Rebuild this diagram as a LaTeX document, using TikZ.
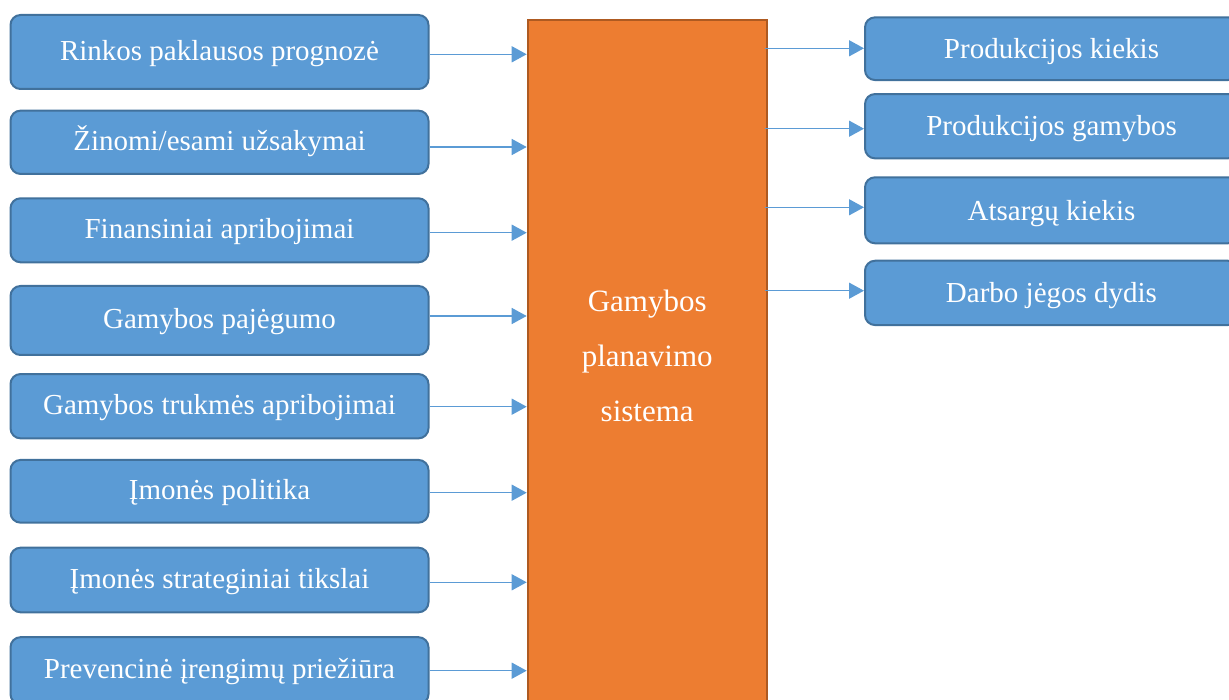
\documentclass[tikz,border=0pt]{standalone}
\usepackage{fontspec}
\setmainfont{Liberation Serif}
\usetikzlibrary{arrows.meta}
\definecolor{boxfill}{HTML}{5B9BD5}
\definecolor{boxline}{HTML}{41719C}
\definecolor{sysfill}{HTML}{ED7D31}
\definecolor{sysline}{HTML}{AE5A21}
\definecolor{arrowcol}{HTML}{5B9BD5}
\begin{document}
\begin{tikzpicture}[x=1pt,y=-1pt,
  factor/.style={draw=boxline, fill=boxfill, line width=2pt, rounded corners=10pt,
    text=white, font=\fontsize{29}{34}\selectfont, minimum width=418pt, inner sep=0pt,
    text height=20pt, text depth=3.5pt},
  result/.style={factor, minimum width=373pt, text depth=0.5pt},
  flow/.style={draw=arrowcol, line width=1.5pt, -{Triangle[length=15pt,width=16pt]}}
]
\useasboundingbox (0,0) rectangle (1229,700);
\clip (0,0) rectangle (1229,700);

% central system block (runs past the lower edge)
\node[draw=sysline, fill=sysfill, line width=2pt, minimum width=239pt,
      minimum height=720pt, anchor=north, inner sep=0pt] (sys) at (647.2,19.3) {};
\node[text=white, font=\fontsize{31}{55}\selectfont, align=center] (syslabel)
      at (647.2,356) {Gamybos\\planavimo\\sistema};

% inputs
\node[factor, minimum height=74pt]   (f1) at (219.5,52)    {Rinkos paklausos prognozė};
\node[factor, minimum height=63.3pt] (f2) at (219.5,142.3) {Žinomi/esami užsakymai};
\node[factor, minimum height=64pt]   (f3) at (219.5,230.3) {Finansiniai apribojimai};
\node[factor, minimum height=69pt]   (f4) at (219.5,320.5) {Gamybos pajėgumo};
\node[factor, minimum height=64.3pt] (f5) at (219.5,406.2) {Gamybos trukmės apribojimai};
\node[factor, minimum height=62.7pt] (f6) at (219.5,491.3) {Įmonės politika};
\node[factor, minimum height=64.6pt] (f7) at (219.5,580)   {Įmonės strateginiai tikslai};
\node[factor, minimum height=67pt]   (f8) at (219.5,670.7) {Prevencinė įrengimų priežiūra};

% outputs
\node[result, minimum height=62.7pt] (r1) at (1051.5,48.7)  {Produkcijos kiekis};
\node[result, minimum height=64.3pt] (r2) at (1051.5,126.2) {Produkcijos gamybos};
\node[result, minimum height=66pt]   (r3) at (1051.5,210.3) {Atsargų kiekis};
\node[result, minimum height=64.3pt] (r4) at (1051.5,292.9) {Darbo jėgos dydis};

% input connectors
\draw[flow] (f1.east |- 0,54.3)  -- (sys.west |- 0,54.3);
\draw[flow] (f2.east |- 0,147)   -- (sys.west |- 0,147);
\draw[flow] (f3.east |- 0,232.7) -- (sys.west |- 0,232.7);
\draw[flow] (f4.east |- 0,316)   -- (sys.west |- 0,316);
\draw[flow] (f5.east |- 0,406.7) -- (sys.west |- 0,406.7);
\draw[flow] (f6.east |- 0,492.7) -- (sys.west |- 0,492.7);
\draw[flow] (f7.east |- 0,582.3) -- (sys.west |- 0,582.3);
\draw[flow] (f8.east |- 0,670.7) -- (sys.west |- 0,670.7);

% output connectors
\draw[flow] ([xshift=-3pt]sys.east |- 0,48.3)  -- (r1.west |- 0,48.3);
\draw[flow] ([xshift=-3pt]sys.east |- 0,128.7) -- (r2.west |- 0,128.7);
\draw[flow] ([xshift=-3pt]sys.east |- 0,207.3) -- (r3.west |- 0,207.3);
\draw[flow] ([xshift=-3pt]sys.east |- 0,290.7) -- (r4.west |- 0,290.7);
\end{tikzpicture}
\end{document}
